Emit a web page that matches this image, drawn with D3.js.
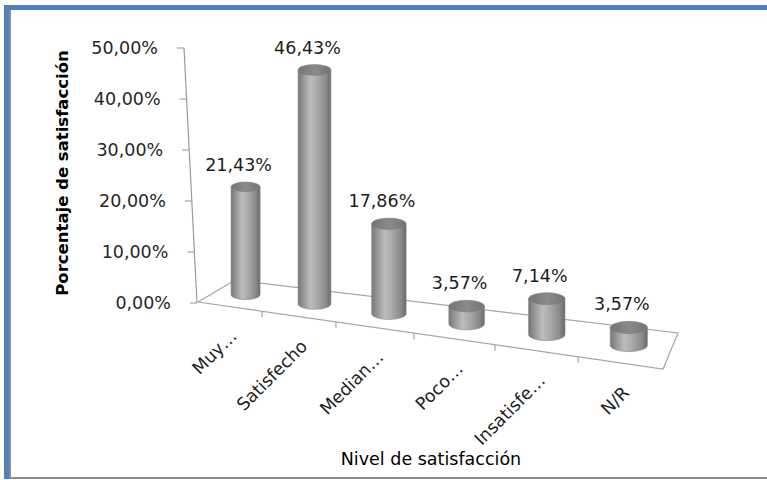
<!DOCTYPE html>
<html>
<head>
<meta charset="utf-8">
<script src="https://cdn.jsdelivr.net/npm/d3@7"></script>
<style>
  html, body { margin: 0; padding: 0; background: #fff; }
  svg { display: block; }
  text { font-family: "DejaVu Sans", sans-serif; }
</style>
</head>
<body>
<svg id="chart" width="767" height="480"></svg>
<script>
// Satisfaction survey: share of answers per level
const categories = ["Muy…", "Satisfecho", "Median…", "Poco…", "Insatisfe…", "N/R"];
const values = [21.43, 46.43, 17.86, 3.57, 7.14, 3.57];
const yTicks = [0, 10, 20, 30, 40, 50];
const yTitle = "Porcentaje de satisfacción";
const xTitle = "Nivel de satisfacción";

const svg = d3.select("#chart");
const n = categories.length;

const esLocale = d3.formatLocale({ decimal: ",", thousands: ".", grouping: [3], currency: ["", " €"] });
const fmt = v => esLocale.format(".2f")(v) + "%";

// Frame
svg.append("rect").attr("x", 0).attr("y", 0).attr("width", 767).attr("height", 480).attr("fill", "#fff");
svg.append("rect").attr("x", 9).attr("y", 10).attr("width", 2).attr("height", 468).attr("fill", "#8c8c8c");
svg.append("rect").attr("x", 9).attr("y", 477).attr("width", 758).attr("height", 2).attr("fill", "#8c8c8c");
svg.append("rect").attr("x", 4).attr("y", 5).attr("width", 763).attr("height", 5).attr("fill", "#4f81bd");
svg.append("rect").attr("x", 4).attr("y", 5).attr("width", 5).attr("height", 474).attr("fill", "#4f81bd");

// Floor corners of the 3D plot (front-left, front-right, back-left, back-right)
const F0 = [198, 302], F1 = [663, 369], B0 = [235, 280], B1 = [678, 333];
const lerp = (a, b, t) => [a[0] + (b[0] - a[0]) * t, a[1] + (b[1] - a[1]) * t];

// Category position along the floor, with a slight perspective stretch to the right
const uScale = d3.scalePow().exponent(1.106).domain([0, n]).range([0, 1]);
function floorPt(k, w) {
  const u = uScale(k);
  return lerp(lerp(F0, F1, u), lerp(B0, B1, u), w);
}

// Value axis: slanted edge on the left
const axisBottom = [197, 303], axisTop = [184, 48];
const yAxisScale = d3.scaleLinear().domain([0, 50]).range([0, 1]);
const axisPt = v => lerp(axisBottom, axisTop, yAxisScale(v));
// Bar heights in pixels
const hScale = d3.scaleLinear().domain([0, 50]).range([0, 252]);

const grid = svg.append("g").attr("stroke", "#a6a6a6").attr("stroke-width", 1.2).attr("fill", "none");
const line = d3.line();

// Floor outline
grid.append("path").attr("d", line([F0, F1, B1, B0, F0]));
// Category tick marks on the front edge
d3.range(1, n).forEach(k => {
  const p = floorPt(k, 0);
  grid.append("path").attr("d", line([p, [p[0], p[1] + 6]]));
});

// Value axis line and ticks
grid.append("path").attr("d", line([axisBottom, axisTop])).attr("stroke", "#9a9a9a");
yTicks.forEach(v => {
  const p = axisPt(v);
  grid.append("path").attr("d", line([[p[0] - 7, p[1]], p]));
});

// Tick labels
svg.append("g").selectAll("text").data(yTicks).join("text")
  .attr("x", d => axisPt(d)[0] - 26)
  .attr("y", d => axisPt(d)[1] + 6)
  .attr("text-anchor", "end")
  .attr("font-size", 17.5)
  .attr("fill", "#262626")
  .text(d => fmt(d));

// Cylinder shading
const defs = svg.append("defs");
const body = defs.append("linearGradient").attr("id", "cylBody").attr("x1", "0").attr("x2", "1").attr("y1", "0").attr("y2", "0");
[[0, "#767676"], [0.12, "#8e8e8e"], [0.38, "#bcbcbc"], [0.55, "#adadad"], [0.85, "#8a8a8a"], [1, "#6a6a6a"]]
  .forEach(([o, c]) => body.append("stop").attr("offset", o).attr("stop-color", c));
const cap = defs.append("linearGradient").attr("id", "cylTop").attr("x1", "0").attr("x2", "1").attr("y1", "0").attr("y2", "0");
[[0, "#747474"], [0.5, "#8a8a8a"], [1, "#747474"]]
  .forEach(([o, c]) => cap.append("stop").attr("offset", o).attr("stop-color", c));

const bars = categories.map((c, i) => {
  const base = floorPt(i + 0.5, 0.5);
  const chord = floorPt(i + 1, 0.5)[0] - floorPt(i, 0.5)[0];
  const rx = 0.2 * chord + 2;
  const ry = rx * 0.33;
  const h = hScale(values[i]);
  return { c, v: values[i], cx: base[0], by: base[1], ty: base[1] - h, rx, ry };
});

const cyl = svg.append("g").selectAll("g").data(bars).join("g");
cyl.append("path")
  .attr("d", d => `M${d.cx - d.rx},${d.ty} L${d.cx - d.rx},${d.by} A${d.rx},${d.ry} 0 0 0 ${d.cx + d.rx},${d.by} L${d.cx + d.rx},${d.ty} Z`)
  .attr("fill", "url(#cylBody)")
  .attr("stroke", "#8a8a8a").attr("stroke-width", 0.6);
cyl.append("ellipse")
  .attr("cx", d => d.cx).attr("cy", d => d.ty)
  .attr("rx", d => d.rx).attr("ry", d => d.ry)
  .attr("fill", "url(#cylTop)")
  .attr("stroke", "#808080").attr("stroke-width", 0.6);

// Value labels
svg.append("g").selectAll("text").data(bars).join("text")
  .attr("x", d => d.cx - 7)
  .attr("y", d => d.ty - d.ry - 11)
  .attr("text-anchor", "middle")
  .attr("font-size", 17.5)
  .attr("fill", "#1e1e1e")
  .text(d => fmt(d.v));

// Category labels, rotated
svg.append("g").selectAll("text").data(categories).join("text")
  .attr("transform", (d, i) => {
    const p = floorPt(i + 0.5, 0);
    return `translate(${p[0] + 10},${p[1] + 31}) rotate(-45)`;
  })
  .attr("text-anchor", "end")
  .attr("font-size", 17.5)
  .attr("fill", "#1e1e1e")
  .text(d => d);

// Axis titles
svg.append("text")
  .attr("transform", "translate(68,173) rotate(-90)")
  .attr("text-anchor", "middle")
  .attr("font-size", 16.5)
  .attr("font-weight", "bold")
  .attr("fill", "#000")
  .text(yTitle);

svg.append("text")
  .attr("x", 431).attr("y", 465)
  .attr("text-anchor", "middle")
  .attr("font-size", 17.5)
  .attr("fill", "#000")
  .text(xTitle);
</script>
</body>
</html>
